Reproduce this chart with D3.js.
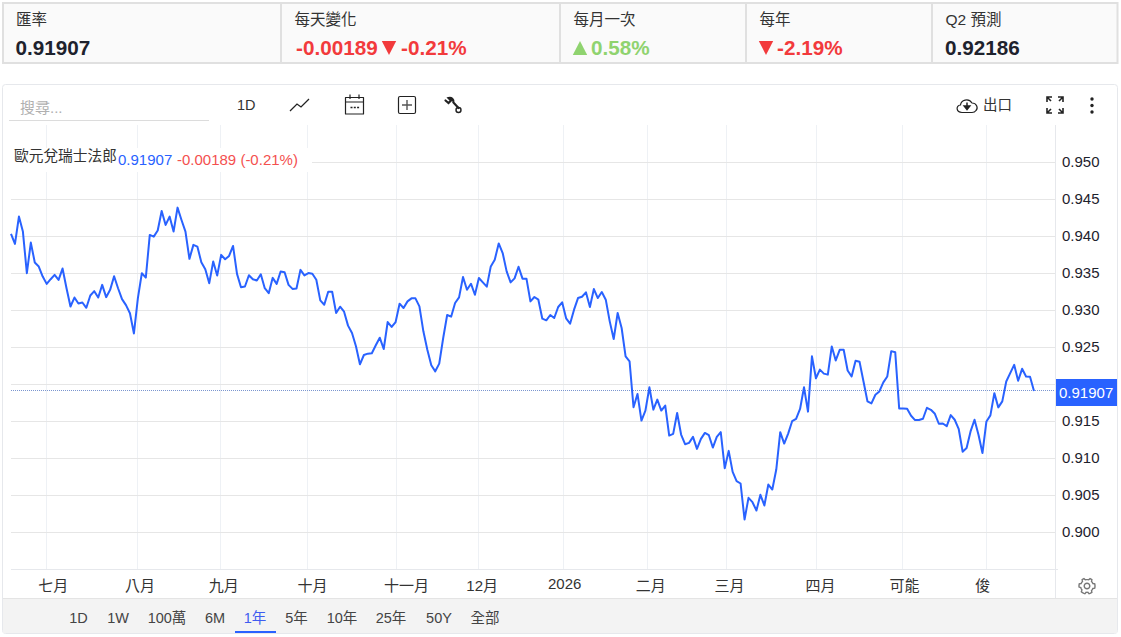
<!DOCTYPE html>
<html lang="zh-Hant">
<head>
<meta charset="utf-8">
<title>歐元兌瑞士法郎</title>
<script src="https://cdnjs.cloudflare.com/ajax/libs/d3/7.9.0/d3.min.js"></script>
<style>
  html, body { margin: 0; padding: 0; background: #fff; }
  svg { display: block; }
  text { font-family: "Liberation Sans", "Noto Sans CJK TC", sans-serif; }
</style>
</head>
<body>
<svg id="chart" width="1121" height="637"></svg>
<script>
// Daily EUR/CHF closes over one year
const closes = [
  0.94032,0.93896,0.94266,0.94063,0.93500,0.93914,0.93644,0.93590,0.93455,0.93356,
  0.93419,0.93477,0.93410,0.93563,0.93297,0.93050,0.93171,0.93090,0.93104,0.93032,
  0.93198,0.93257,0.93171,0.93342,0.93176,0.93275,0.93459,0.93297,0.93149,0.93068,
  0.92959,0.92685,0.93162,0.93500,0.93441,0.94018,0.93995,0.94077,0.94342,0.94153,
  0.94266,0.94063,0.94387,0.94220,0.94063,0.93694,0.93883,0.93860,0.93649,0.93554,
  0.93365,0.93658,0.93468,0.93748,0.93689,0.93734,0.93869,0.93491,0.93311,0.93320,
  0.93473,0.93419,0.93401,0.93486,0.93297,0.93230,0.93437,0.93356,0.93523,0.93514,
  0.93342,0.93288,0.93293,0.93545,0.93471,0.93502,0.93493,0.93412,0.93133,0.93074,
  0.93250,0.93250,0.92962,0.93047,0.92980,0.92791,0.92691,0.92511,0.92268,0.92394,
  0.92412,0.92417,0.92525,0.92628,0.92475,0.92840,0.92773,0.92840,0.93088,0.93029,
  0.93119,0.93160,0.93160,0.93052,0.92714,0.92466,0.92255,0.92173,0.92277,0.92624,
  0.92935,0.92912,0.93097,0.93173,0.93448,0.93277,0.93358,0.93209,0.93435,0.93376,
  0.93318,0.93592,0.93682,0.93903,0.93773,0.93525,0.93376,0.93430,0.93588,0.93426,
  0.93426,0.93119,0.93178,0.93142,0.92885,0.92863,0.92935,0.92894,0.93043,0.93106,
  0.92890,0.92817,0.93007,0.93164,0.93182,0.93241,0.93043,0.93286,0.93164,0.93245,
  0.93142,0.92849,0.92610,0.92962,0.92759,0.92376,0.92309,0.91687,0.91867,0.91507,
  0.91642,0.91957,0.91655,0.91791,0.91642,0.91709,0.91304,0.91327,0.91610,0.91318,
  0.91187,0.91205,0.91286,0.91124,0.91259,0.91340,0.91309,0.91142,0.91286,0.91350,
  0.90863,0.91097,0.90813,0.90687,0.90656,0.90169,0.90462,0.90403,0.90291,0.90503,
  0.90359,0.90642,0.90574,0.90845,0.91350,0.91196,0.91331,0.91498,0.91529,0.91664,
  0.91957,0.91628,0.92376,0.92079,0.92196,0.92142,0.92128,0.92509,0.92320,0.92464,
  0.92464,0.92185,0.92104,0.92315,0.92302,0.92036,0.91766,0.91739,0.91856,0.91901,
  0.92023,0.92104,0.92446,0.92432,0.91671,0.91671,0.91667,0.91572,0.91514,0.91514,
  0.91532,0.91680,0.91653,0.91599,0.91464,0.91468,0.91432,0.91581,0.91518,0.91396,
  0.91086,0.91135,0.91360,0.91518,0.91315,0.91068,0.91495,0.91577,0.91878,0.91685,
  0.91766,0.92036,0.92149,0.92261,0.92045,0.92207,0.92104,0.92099,0.91907
];
const lastClose = 0.91907;

const priceTicks = [0.900, 0.905, 0.910, 0.915, 0.920, 0.925, 0.930, 0.935, 0.940, 0.945, 0.950];

// Month boundaries and label anchors, in trading-day units
const monthStarts = [8.9, 31.85, 52.8, 74.7, 97.2, 117.9, 139.3, 160.5, 180.4, 202.9, 224.8, 246];
const monthLabelAt = [10.5, 32.4, 53.5, 75.9, 99.6, 118.7, 139.5, 161.2, 181.1, 204, 225.2, 244.9];
const monthLabels = ["七月", "八月", "九月", "十月", "十一月", "12月", "2026", "二月", "三月", "四月", "可能", "俊"];

const statTitles = ["匯率", "每天變化", "每月一次", "每年", "Q2 預測"];
const rangeLabels = ["1D", "1W", "100萬", "6M", "1年", "5年", "10年", "25年", "50Y", "全部"];
const rangeCenters = [78.5, 118, 167, 215, 255, 296.5, 342, 391, 439, 485];
const activeRange = "1年";

const BLUE = "#2962ff", RED = "#f23a3c", GREEN = "#8fd36f", INK = "#1e222d";

const svg = d3.select("#chart");

const x = d3.scaleLinear().domain([0, closes.length - 1]).range([11, 1034]);
const y = d3.scaleLinear().domain([0.900, 0.950]).range([532, 162.3]);

/* ---------- stat cards ---------- */
const cardEdges = [3, 281, 560, 746, 932, 1117.5];
const cards = svg.append("g");
statTitles.forEach((t, i) => {
  cards.append("rect")
    .attr("x", cardEdges[i]).attr("y", 3)
    .attr("width", cardEdges[i + 1] - cardEdges[i]).attr("height", 60)
    .attr("fill", "#fafafa").attr("stroke", "#e0e0e0").attr("stroke-width", 2);
  cards.append("text")
    .attr("x", cardEdges[i] + (i === 0 ? 13 : 13.5)).attr("y", 24.5)
    .attr("font-size", 15.5).attr("fill", "#333").text(t);
});

function bigValue(px, label, color) {
  cards.append("text").attr("x", px).attr("y", 55)
    .attr("font-size", 20.7).attr("font-weight", 700).attr("fill", color).text(label);
}
function triangle(cx, up, color) {
  const top = 41, bottom = 55, half = 7.2;
  const pts = up
    ? [[cx - half, bottom], [cx + half, bottom], [cx, top]]
    : [[cx - half, top], [cx + half, top], [cx, bottom]];
  cards.append("path").attr("d", d3.line()(pts) + "Z").attr("fill", color);
}
bigValue(15.5, "0.91907", INK);
bigValue(296, "-0.00189", RED);
triangle(389, false, RED);
bigValue(401, "-0.21%", RED);
triangle(580, true, GREEN);
bigValue(591, "0.58%", GREEN);
triangle(766, false, RED);
bigValue(777, "-2.19%", RED);
bigValue(945, "0.92186", INK);

/* ---------- chart panel ---------- */
svg.append("rect")
  .attr("x", 2.5).attr("y", 84.5).attr("width", 1115).attr("height", 549).attr("rx", 3)
  .attr("fill", "#fff").attr("stroke", "#e6e8ec");

/* ---------- toolbar ---------- */
const bar = svg.append("g");
bar.append("text").attr("x", 20).attr("y", 113).attr("font-size", 15).attr("fill", "#b0b0b0").text("搜尋...");
bar.append("line").attr("x1", 9).attr("x2", 209).attr("y1", 120.5).attr("y2", 120.5).attr("stroke", "#dcdcdc");
bar.append("text").attr("x", 237).attr("y", 110).attr("font-size", 14.5).attr("fill", "#333").text("1D");
bar.append("text").attr("x", 983).attr("y", 110).attr("font-size", 14.5).attr("fill", "#333").text("出口");

const icon = (d, w = 1.3) => bar.append("path").attr("d", d).attr("fill", "none")
  .attr("stroke", "#222").attr("stroke-width", w);
icon("M290 111L297 104L301 107L309 99");
icon("M345.5 97.5H363.5V114H345.5ZM345.5 102H363.5M350 94.5V99M359 94.5V99", 1.2)
  .attr("stroke-linejoin", "round");
bar.append("path").attr("d", "M350.5 107.5h2M353.8 107.5h2M357.1 107.5h2").attr("stroke", "#222").attr("stroke-width", 1.6);
bar.append("rect").attr("x", 398.5).attr("y", 96.5).attr("width", 17).attr("height", 17).attr("rx", 1.5)
  .attr("fill", "none").attr("stroke", "#222").attr("stroke-width", 1.2);
bar.append("path").attr("d", "M402 105H412M407 100V110").attr("stroke", "#555").attr("stroke-width", 1.4);
icon("M445.5 100.5L448.5 103L451 100.5L448.5 98C451.5 97 454 99.5 453.4 102.5L458.5 108", 2.2).attr("stroke-linecap", "round");
bar.append("circle").attr("cx", 458.5).attr("cy", 110).attr("r", 2.5).attr("fill", "none").attr("stroke", "#222").attr("stroke-width", 1.4);
icon("M962 112.5C956 112.5 955.5 105.5 960.5 105C961 100 968.5 97.5 972 103C976.5 103 978.5 108 976 110.5C975 112 973.5 112.5 972 112.5Z", 1.2);
bar.append("path").attr("d", "M967 102.5V107.5M964.2 106H969.8L967 109.5Z").attr("stroke", "#222").attr("stroke-width", 1.5).attr("fill", "#222");
icon("M1047 102V97H1052M1063 102V97H1058M1047 108V113H1052M1063 108V113H1058M1047 97L1051 101M1063 97L1059 101M1047 113L1051 109M1063 113L1059 109", 1.6);
[99, 105.5, 112].forEach(cy => bar.append("circle").attr("cx", 1092).attr("cy", cy).attr("r", 1.7).attr("fill", "#222"));

/* ---------- grid ---------- */
const grid = svg.append("g");
grid.selectAll("line.v").data(monthStarts).join("line").attr("class", "v")
  .attr("x1", d => Math.round(x(d)) + 0.5).attr("x2", d => Math.round(x(d)) + 0.5)
  .attr("y1", 125).attr("y2", 570)
  .attr("stroke", "#eef1f5");
grid.selectAll("line.h").data(priceTicks).join("line").attr("class", "h")
  .attr("x1", 11).attr("x2", 1055)
  .attr("y1", d => Math.round(y(d)) + 0.5).attr("y2", d => Math.round(y(d)) + 0.5)
  .attr("stroke", "#e6e6e6");

/* ---------- legend strip ---------- */
svg.append("rect").attr("x", 11).attr("y", 148).attr("width", 301).attr("height", 24).attr("fill", "#fff");
svg.append("text").attr("x", 14).attr("y", 160.5).attr("font-size", 14.7).attr("fill", "#333").text("歐元兌瑞士法郎");
svg.append("text").attr("x", 118).attr("y", 165).attr("font-size", 15).attr("fill", BLUE).text(d3.format(".5f")(lastClose));
svg.append("text").attr("x", 177).attr("y", 165).attr("font-size", 15).attr("fill", "#f4504f").text("-0.00189 (-0.21%)");

/* ---------- last price guide and series ---------- */
svg.append("line")
  .attr("x1", 11).attr("x2", 1055)
  .attr("y1", Math.round(y(lastClose)) - 0.5).attr("y2", Math.round(y(lastClose)) - 0.5)
  .attr("stroke", "#7b96cf").attr("stroke-dasharray", "1 1");

svg.append("path")
  .datum(closes)
  .attr("fill", "none").attr("stroke", BLUE).attr("stroke-width", 2)
  .attr("stroke-linejoin", "round")
  .attr("d", d3.line().x((d, i) => x(i)).y(d => y(d)));

/* ---------- price axis ---------- */
const priceAxis = d3.axisRight(y).tickValues(priceTicks).tickFormat(d3.format(".3f")).tickSize(0).tickPadding(0);
const pa = svg.append("g").attr("transform", "translate(1062,-1)").call(priceAxis);
pa.select(".domain").remove();
pa.selectAll("text").attr("font-size", 15).attr("fill", INK).attr("dy", "0.34em")
  .style("font-family", '"Liberation Sans", sans-serif');
svg.append("line").attr("x1", 1055.5).attr("x2", 1055.5).attr("y1", 125).attr("y2", 598).attr("stroke", "#e6e8ec");

svg.append("rect").attr("x", 1056).attr("y", 379).attr("width", 61).attr("height", 27).attr("fill", BLUE);
svg.append("text").attr("x", 1059).attr("y", Math.round(y(lastClose)) + 7)
  .attr("font-size", 15).attr("fill", "#fff").text(d3.format(".5f")(lastClose));

/* ---------- month axis ---------- */
svg.append("line").attr("x1", 11).attr("x2", 1058).attr("y1", 569.5).attr("y2", 569.5).attr("stroke", "#e6e8ec");
const monthAxis = d3.axisBottom(x).tickValues(monthLabelAt)
  .tickFormat((d, i) => monthLabels[i]).tickSize(0).tickPadding(0);
const ma = svg.append("g").attr("transform", "translate(0,580)").call(monthAxis);
ma.select(".domain").remove();
ma.selectAll("text").attr("font-size", 15).attr("fill", "#333").attr("dy", "0.71em")
  .style("font-family", '"Liberation Sans", "Noto Sans CJK TC", sans-serif')
  .attr("y", (d, i) => monthLabels[i] === "2026" ? -2 : 0);

/* gear */
const gear = svg.append("g").attr("transform", "translate(1087,586)");
const lobes = d3.range(48).map(k => {
  const a = k / 48 * 2 * Math.PI;
  const r = 7 + (Math.cos(6 * a) > 0 ? 1 : -0.6);
  return [r * Math.cos(a), r * Math.sin(a)];
});
gear.append("path").attr("d", d3.line().curve(d3.curveLinearClosed)(lobes))
  .attr("fill", "none").attr("stroke", "#777").attr("stroke-width", 1.4);
gear.append("circle").attr("r", 2.8).attr("fill", "none").attr("stroke", "#777").attr("stroke-width", 1.4);

/* ---------- range selector ---------- */
svg.append("rect").attr("x", 3).attr("y", 598.5).attr("width", 1114).attr("height", 34.5).attr("fill", "#f3f3f3");
svg.append("line").attr("x1", 3).attr("x2", 1117).attr("y1", 598.5).attr("y2", 598.5).attr("stroke", "#e4e4e4");
svg.append("g").selectAll("text").data(rangeLabels).join("text")
  .attr("x", (d, i) => rangeCenters[i]).attr("y", 623).attr("text-anchor", "middle")
  .attr("font-size", 14.5).attr("fill", d => d === activeRange ? "#3f5cf0" : "#444")
  .text(d => d);
svg.append("rect").attr("x", 235).attr("y", 631).attr("width", 41).attr("height", 2).attr("fill", BLUE);
</script>
</body>
</html>
